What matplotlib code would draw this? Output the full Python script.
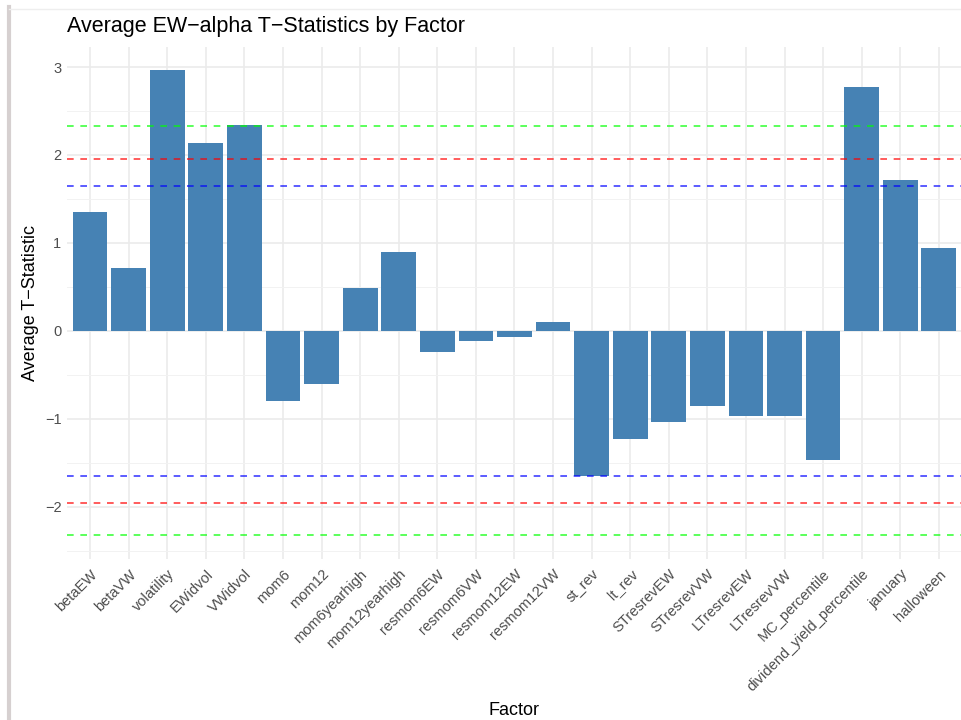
import matplotlib
matplotlib.use('Agg')
import matplotlib.pyplot as plt
from matplotlib.lines import Line2D
import numpy as np

plt.rcParams['font.family'] = ['Liberation Sans', 'DejaVu Sans']

factors = ['betaEW', 'betaVW', 'volatility', 'EWidvol', 'VWidvol', 'mom6', 'mom12',
           'mom6yearhigh', 'mom12yearhigh', 'resmom6EW', 'resmom6VW', 'resmom12EW',
           'resmom12VW', 'st_rev', 'lt_rev', 'STresrevEW', 'STresrevVW', 'LTresrevEW',
           'LTresrevVW', 'MC_percentile', 'dividend_yield_percentile', 'january', 'halloween']
avg_t = [1.35, 0.72, 2.97, 2.14, 2.34, -0.80, -0.60,
         0.49, 0.90, -0.24, -0.11, -0.07,
         0.10, -1.65, -1.23, -1.03, -0.85, -0.97,
         -0.97, -1.47, 2.77, 1.72, 0.94]

crit_vals = [1.645, 1.96, 2.326]
crit_labels = ['10%', '5%', '1%']
crit_colors = ['blue', 'red', 'lime']

fig = plt.figure(figsize=(9.62, 7.2), dpi=100)
ax = fig.add_axes([0.0696, 0.224, 0.9304, 0.711])

x = np.arange(len(factors))
ax.bar(x, avg_t, width=0.9, color='#4682B4', zorder=2)

for v, lab, c in zip(crit_vals, crit_labels, crit_colors):
    for s in (1, -1):
        ax.axhline(s * v, color=c, linestyle=(0, (4, 4)), linewidth=1.2, alpha=0.75, zorder=3)
        ax.text(1.003, s * v, lab, color=c, fontsize=12, va='center', ha='left',
                transform=ax.get_yaxis_transform(), clip_on=False)

ax.set_xlim(-0.6, len(factors) - 0.4)
ax.set_ylim(-2.59, 3.23)
ax.set_xticks(x)
ax.set_xticklabels(factors, rotation=45, ha='right', rotation_mode='anchor')
ax.set_yticks([-2, -1, 0, 1, 2, 3])
ax.set_yticklabels(['\u22122', '\u22121', '0', '1', '2', '3'])
ax.set_yticks([-2.5, -1.5, -0.5, 0.5, 1.5, 2.5], minor=True)

ax.grid(True, which='major', color='#ebebeb', linewidth=1.2, zorder=0)
ax.grid(True, which='minor', axis='y', color='#f2f2f2', linewidth=0.7, zorder=0)
ax.set_axisbelow(True)
for sp in ax.spines.values():
    sp.set_visible(False)
ax.tick_params(axis='both', which='both', length=0, labelsize=10.5, colors='#4d4d4d', pad=4)
ax.tick_params(axis='x', pad=6)

ax.set_title('Average EW\u2212alpha T\u2212Statistics by Factor', loc='left', fontsize=15.5, pad=11)
ax.set_ylabel('Average T\u2212Statistic', fontsize=13, labelpad=4)
ax.set_xlabel('Factor', fontsize=13, labelpad=6)

# window border
fig.add_artist(Line2D([0.009, 0.009], [0, 0.99], transform=fig.transFigure, color='#d6d0d0', linewidth=3))
fig.add_artist(Line2D([0.009, 1], [0.988, 0.988], transform=fig.transFigure, color='#eeeeee', linewidth=1))

fig.savefig('out.png', dpi=100)
